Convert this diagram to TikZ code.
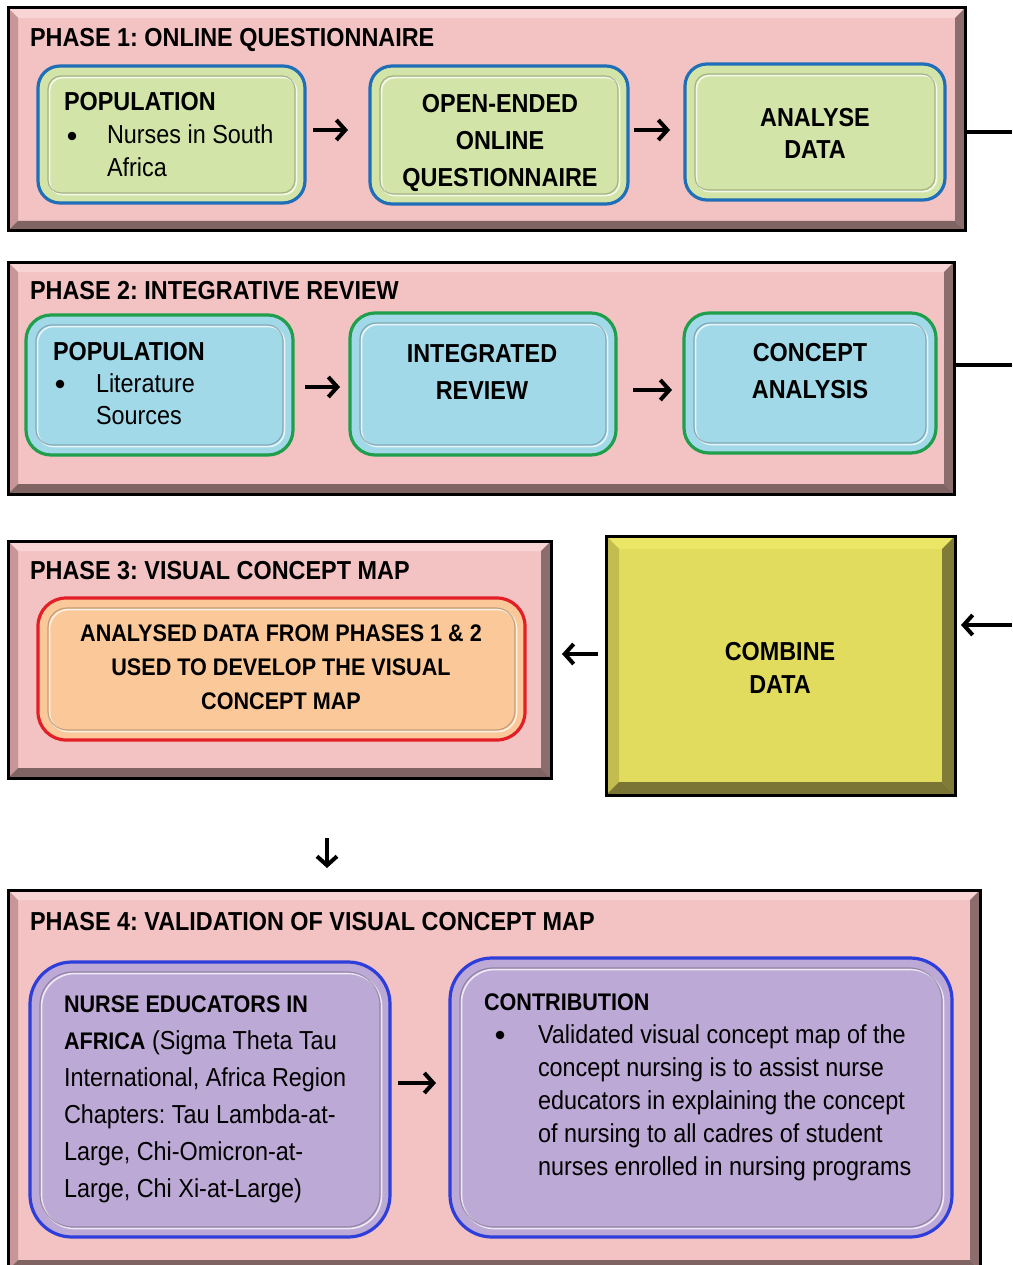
\documentclass[tikz,border=0pt]{standalone}
\usepackage{fontspec}
\setmainfont[FakeStretch=0.9]{Liberation Sans}
\usetikzlibrary{arrows.meta}
\frenchspacing

% panel colours (bevelled frames)
\definecolor{panelface}{HTML}{F3C3C3}
\definecolor{paneltop}{HTML}{F9D4D4}
\definecolor{panelleft}{HTML}{C89696}
\definecolor{panelright}{HTML}{8B6D6D}
\definecolor{panelbottom}{HTML}{806464}
\definecolor{yelface}{HTML}{E2DC5E}
\definecolor{yeltop}{HTML}{ECE666}
\definecolor{yelleft}{HTML}{C3BD4F}
\definecolor{yelright}{HTML}{807B36}
\definecolor{yelbottom}{HTML}{7A7534}
% stage box colours
\definecolor{greenfill}{HTML}{D3E4A8}
\definecolor{blueedge}{HTML}{1F6EB8}
\definecolor{cyanfill}{HTML}{A2D9E9}
\definecolor{greenedge}{HTML}{1F9E4C}
\definecolor{orangefill}{HTML}{FBC999}
\definecolor{rededge}{HTML}{E21E26}
\definecolor{lilacfill}{HTML}{BDA9D5}
\definecolor{violetedge}{HTML}{2E3EDB}

\newcommand\bodyfont{\fontsize{26}{33}\selectfont}
\newcommand\headfont{\fontsize{26}{37}\selectfont\bfseries}
\newcommand\txtblock[2]{\begin{tabular}[t]{@{}#1@{}}#2\end{tabular}}

% bevelled panel: name, x1, y1, x2, y2, colour prefix, bevel width
\newcommand\panel[7]{%
  \node[inner sep=0pt,outer sep=0pt,minimum width={#4-#2},minimum height={#5-#3},fill=#6face]
    (#1) at ({(#2+#4)/2},{(#3+#5)/2}) {};
  \fill[#6top] (#1.north west) -- (#1.north east) -- ([shift={(-#7,#7)}]#1.north east)
    -- ([shift={(#7,#7)}]#1.north west) -- cycle;
  \fill[#6left] (#1.north west) -- ([shift={(#7,#7)}]#1.north west)
    -- ([shift={(#7,-#7)}]#1.south west) -- (#1.south west) -- cycle;
  \fill[#6right] (#1.north east) -- (#1.south east) -- ([shift={(-#7,-#7)}]#1.south east)
    -- ([shift={(-#7,#7)}]#1.north east) -- cycle;
  \fill[#6bottom] (#1.south west) -- (#1.south east) -- ([shift={(-#7,-#7)}]#1.south east)
    -- ([shift={(#7,-#7)}]#1.south west) -- cycle;
  \draw[line width=3pt] (#1.north west) rectangle (#1.south east);
}

% embossed rounded stage box: name, x1, y1, x2, y2, fill, edge, radius
\newcommand\stage[8]{%
  \node[inner sep=0pt,outer sep=0pt,rounded corners=#8,minimum width={#4-#2},minimum height={#5-#3},
    fill=#6,draw=#7,line width=3.2pt] (#1) at ({(#2+#4)/2},{(#3+#5)/2}) {};
  \draw[white,opacity=.75,line width=1.6pt,rounded corners={#8-9}]
    ([shift={(11.5,11.5)}]#1.north west) rectangle ([shift={(-8.5,-8.5)}]#1.south east);
  \draw[#6!60!black,opacity=.55,line width=1.2pt,rounded corners={#8-9}]
    ([shift={(10,10)}]#1.north west) rectangle ([shift={(-10,-10)}]#1.south east);
}

\tikzset{
  arr/.style={line width=4pt,-{Straight Barb[length=9pt,width=20pt,line width=4pt]}},
  edgeline/.style={line width=4pt},
  txt/.style={inner sep=0pt,outer sep=0pt,text=black},
  bulletdot/.style={fill=black},
}

\begin{document}
\begin{tikzpicture}[x=1pt,y=-1pt]
\useasboundingbox (0,0) rectangle (1012,1265);
\fill[white] (0,0) rectangle (1012,1265);

% ---------- Phase 1 ----------
\panel{ph1}{8}{8}{965}{231}{panel}{10}
\node[txt,anchor=base west] (ph1t) at (30,47) {\headfont PHASE 1: ONLINE QUESTIONNAIRE};
\stage{p1a}{38}{66}{305}{203}{greenfill}{blueedge}{22}
\stage{p1b}{370}{66}{628}{204}{greenfill}{blueedge}{22}
\stage{p1c}{685}{64}{945}{200}{greenfill}{blueedge}{22}
\node[txt,anchor=base west] (p1at) at (64,111) {\bodyfont\txtblock{l}{%
  \textbf{POPULATION}\\
  \hspace*{43pt}Nurses in South\\
  \hspace*{43pt}Africa}};
\fill[bulletdot] (72,136) circle (4.3);
\node[txt,anchor=base] (p1bt) at (500,113) {\headfont\txtblock{c}{OPEN-ENDED\\ONLINE\\QUESTIONNAIRE}};
\node[txt,anchor=base] (p1ct) at (815,127) {\fontsize{26}{32}\selectfont\bfseries\txtblock{c}{ANALYSE\\DATA}};

% ---------- Phase 2 ----------
\panel{ph2}{8}{262}{954}{494}{panel}{10}
\node[txt,anchor=base west] (ph2t) at (30,299) {\headfont PHASE 2: INTEGRATIVE REVIEW};
\stage{p2a}{26}{315}{293}{455}{cyanfill}{greenedge}{25}
\stage{p2b}{350}{313}{616}{455}{cyanfill}{greenedge}{25}
\stage{p2c}{684}{313}{936}{453}{cyanfill}{greenedge}{25}
\node[txt,anchor=base west] (p2at) at (53,360) {\fontsize{26}{32}\selectfont\txtblock{l}{%
  \textbf{POPULATION}\\
  \hspace*{43pt}Literature\\
  \hspace*{43pt}Sources}};
\fill[bulletdot] (60,384) circle (4.3);
\node[txt,anchor=base] (p2bt) at (482,362) {\headfont\txtblock{c}{INTEGRATED\\REVIEW}};
\node[txt,anchor=base] (p2ct) at (810,361) {\headfont\txtblock{c}{CONCEPT\\ANALYSIS}};

% ---------- Phase 3 ----------
\panel{ph3}{8}{541}{551}{778}{panel}{10}
\node[txt,anchor=base west] (ph3t) at (30,579) {\headfont PHASE 3: VISUAL CONCEPT MAP};
\stage{p3a}{38}{598}{525}{740}{orangefill}{rededge}{28}
\node[txt,anchor=base] (p3at) at (281,641) {\fontsize{24}{34}\selectfont\bfseries\txtblock{c}{%
  ANALYSED DATA FROM PHASES 1 \& 2\\USED TO DEVELOP THE VISUAL\\CONCEPT MAP}};

\panel{comb}{606}{536}{955}{795}{yel}{13}
\node[txt,anchor=base] (combt) at (780,660) {\fontsize{26}{33}\selectfont\bfseries\txtblock{c}{COMBINE\\DATA}};

% ---------- Phase 4 ----------
\panel{ph4}{8}{890}{980}{1270}{panel}{10}
\node[txt,anchor=base west] (ph4t) at (30,930) {\headfont PHASE 4: VALIDATION OF VISUAL CONCEPT MAP};
\stage{p4a}{30}{962}{390}{1237}{lilacfill}{violetedge}{42}
\stage{p4b}{450}{958}{952}{1237}{lilacfill}{violetedge}{42}
\node[txt,anchor=base west] (p4at) at (64,1012) {\fontsize{26}{37}\selectfont\txtblock{l}{%
  {\fontsize{24}{37}\selectfont\bfseries NURSE EDUCATORS IN}\\
  {\fontsize{24}{37}\selectfont\bfseries AFRICA} (Sigma Theta Tau\\
  International, Africa Region\\
  Chapters: Tau Lambda-at-\\
  Large, Chi-Omicron-at-\\
  Large, Chi Xi-at-Large)}};
\node[txt,anchor=base west] (p4bt) at (484,1010) {\bodyfont\txtblock{l}{%
  {\fontsize{24}{33}\selectfont\bfseries CONTRIBUTION}\\
  \hspace*{54pt}Validated visual concept map of the\\
  \hspace*{54pt}concept nursing is to assist nurse\\
  \hspace*{54pt}educators in explaining the concept\\
  \hspace*{54pt}of nursing to all cadres of student\\
  \hspace*{54pt}nurses enrolled in nursing programs}};
\fill[bulletdot] (500,1035) circle (4.3);

% ---------- connectors ----------
\draw[arr,shorten <=8pt,shorten >=22pt] ([yshift=4.5pt]p1a.east) -- ([yshift=4.5pt]p1a.east -| p1b.west);
\draw[arr,shorten <=6pt,shorten >=15pt] ([yshift=5pt]p1b.east) -- ([yshift=5pt]p1b.east -| p1c.west);
\draw[arr,shorten <=12pt,shorten >=10pt] ([yshift=-2pt]p2a.east) -- ([yshift=-2pt]p2a.east -| p2b.west);
\draw[arr,shorten <=17pt,shorten >=12pt] ([yshift=-6pt]p2b.east) -- ([yshift=-6pt]p2b.east -| p2c.west);
\draw[arr,shorten <=8pt,shorten >=11pt] ([yshift=11.5pt]comb.west) -- ([yshift=11.5pt]comb.west -| ph3.east);
\draw[arr,shorten <=60pt,shorten >=22pt] ([xshift=47.5pt]ph3.south) -- ([xshift=47.5pt]ph3.south |- ph4.north);
\draw[arr,shorten <=8pt,shorten >=14pt] ([yshift=16.5pt]p4a.east) -- ([yshift=16.5pt]p4a.east -| p4b.west);

% lines leaving / entering at the right edge
\coordinate (out1) at (1012,132);
\coordinate (out2) at (1012,365);
\coordinate (in3) at (1012,625);
\draw[edgeline] (ph1.east |- out1) -- (out1);
\draw[edgeline] (ph2.east |- out2) -- (out2);
\draw[arr,shorten >=6pt] (in3) -- (comb.east |- in3);
\end{tikzpicture}
\end{document}
